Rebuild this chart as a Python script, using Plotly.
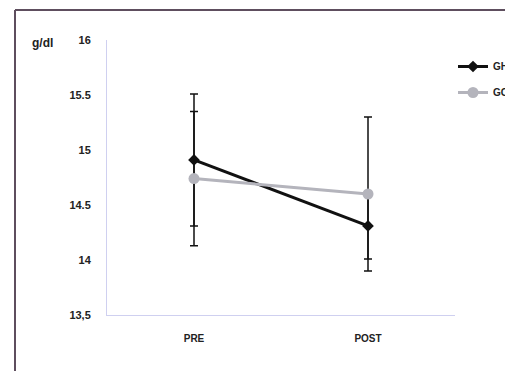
import plotly.graph_objects as go

categories = ["PRE", "POST"]
gh_values = [14.91, 14.31]
gh_err = [0.6, 0.3]
gc_values = [14.74, 14.60]
gc_err = [0.61, 0.7]
y_ticks = [13.5, 14, 14.5, 15, 15.5, 16]
y_ticktext = ["13,5", "14", "14.5", "15", "15.5", "16"]

fig = go.Figure()
fig.add_trace(go.Scatter(
    x=categories, y=gh_values, name="GH", mode="lines+markers", legendgroup="gh",
    line=dict(color="#111111", width=3),
    marker=dict(symbol="diamond", size=9, color="#111111"),
    error_y=dict(type="data", array=gh_err, color="#111111", thickness=1.5, width=4),
))
fig.add_trace(go.Scatter(
    x=categories, y=gc_values, name="GC", mode="lines+markers", legendgroup="gc",
    line=dict(color="#b4b4bc", width=3),
    marker=dict(symbol="circle", size=11, color="#b4b4bc"),
    error_y=dict(type="data", array=gc_err, color="#111111", thickness=1.5, width=4),
))

# page body has an 8px margin: plot area in window is x 107..455, y 40..315
W, H = 513, 371
L, T, R, B = 99, 32, 66, 64
pw = W - L - R
ph = H - T - B

def px(xw):
    return (xw - 8 - L) / pw

def py(yw):
    return 1 - (yw - 8 - T) / ph

fig.update_layout(
    width=W, height=H,
    margin=dict(l=L, r=R, t=T, b=B, autoexpand=False),
    paper_bgcolor="white", plot_bgcolor="white",
    font=dict(family="Liberation Sans", size=10, color="#222222"),
    showlegend=True,
    legend=dict(xref="container", yref="container",
                x=(453 - 8) / W, y=1 - (52 - 8) / H, xanchor="left", yanchor="top",
                font=dict(size=10, color="#222222", weight="bold"), bgcolor="rgba(0,0,0,0)",
                itemwidth=30, traceorder="grouped", tracegroupgap=7),
    xaxis=dict(showgrid=False, zeroline=False, showline=True, linecolor="#cfd0f0",
               linewidth=1, ticks="outside", ticklen=14, tickcolor="white",
               tickfont=dict(size=10, family="Liberation Sans", weight="bold"),
               range=[-0.5, 1.5]),
    yaxis=dict(range=[13.5, 16], tickvals=y_ticks, ticktext=y_ticktext,
               showgrid=False, zeroline=False, showline=True, linecolor="#cfd0f0",
               linewidth=1, ticks="outside", ticklen=13, tickcolor="white",
               tickfont=dict(size=11, family="Liberation Sans", weight="bold")),
    shapes=[
        dict(type="line", xref="paper", yref="paper", x0=px(15), x1=px(530), y0=py(10), y1=py(10),
             line=dict(color="#5e4e5e", width=2)),
        dict(type="line", xref="paper", yref="paper", x0=px(15), x1=px(15), y0=py(10), y1=py(390),
             line=dict(color="#5e4e5e", width=2)),
    ],
    annotations=[
        dict(text="<b>g/dl</b>", xref="paper", yref="paper", x=px(30), y=py(43),
             xanchor="left", yanchor="middle", showarrow=False,
             font=dict(size=12, color="#222222")),
    ],
)
fig.write_html("out.html")
